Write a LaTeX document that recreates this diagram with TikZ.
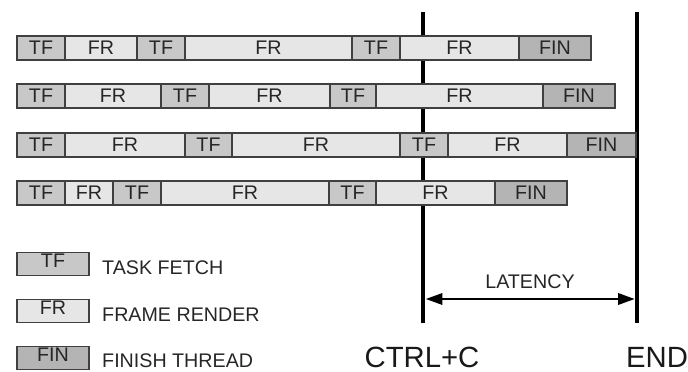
\documentclass[tikz,border=0pt]{standalone}
\usepackage{fontspec}
\setmainfont{Liberation Sans}
\usetikzlibrary{arrows.meta}
\definecolor{tfgray}{RGB}{200,200,200}
\definecolor{frgray}{RGB}{230,230,230}
\definecolor{fingray}{RGB}{180,180,180}
\begin{document}
\begin{tikzpicture}[x=0.03cm, y=-0.03cm, >={Triangle[length=14pt,width=10pt]},
    seg/.style={draw=black!75, line width=1pt, minimum height=0.72cm,
        inner sep=0pt, outer sep=0pt, text=black!85,
        font=\fontsize{16.8}{17}\selectfont},
    keybox/.style={seg, minimum width=2.16cm, minimum height=0.68cm, text depth=6pt},
    keytext/.style={anchor=west, inner sep=0pt, text=black!85, font=\fontsize{16.8}{17}\selectfont},
    marker/.style={line width=4.2pt},
    bigtext/.style={inner sep=0pt, text=black!90, font=\fontsize{25}{25}\selectfont}]
    \useasboundingbox (0,0) rectangle (688,372);

    % 1. Toa do cac vach dung CTRL+C va END
    \coordinate (ctrltop) at (423, 12);
    \coordinate (ctrlbot) at (423, 323);
    \coordinate (endtop) at (637, 12);
    \coordinate (endbot) at (637, 323);

    % 2. Ve cac vach dung (nam phia sau cac thanh)
    \draw[marker] (ctrltop) -- (ctrlbot);
    \draw[marker] (endtop) -- (endbot);

    % 3. Cac thanh cong viec cua tung luong
    % Luong 1
    \foreach \c/\a/\b/\t [count=\i] in {tfgray/17/65/TF, frgray/65/137/FR,
        tfgray/137/185/TF, frgray/185/352/FR, tfgray/352/400/TF,
        frgray/400/519/FR, fingray/519/591/FIN} {
        \node[seg, fill=\c, minimum width={(\b-\a)*0.03cm}] (ra\i) at ({(\a+\b)/2}, 48) {\t};
    }
    % Luong 2
    \foreach \c/\a/\b/\t [count=\i] in {tfgray/17/65/TF, frgray/65/161/FR,
        tfgray/161/209/TF, frgray/209/330/FR, tfgray/330/376/TF,
        frgray/376/543/FR, fingray/543/615/FIN} {
        \node[seg, fill=\c, minimum width={(\b-\a)*0.03cm}] (rb\i) at ({(\a+\b)/2}, 96) {\t};
    }
    % Luong 3
    \foreach \c/\a/\b/\t [count=\i] in {tfgray/17/65/TF, frgray/65/185/FR,
        tfgray/185/232/TF, frgray/232/400/FR, tfgray/400/448/TF,
        frgray/448/567/FR, fingray/567/636/FIN} {
        \node[seg, fill=\c, minimum width={(\b-\a)*0.03cm}] (rc\i) at ({(\a+\b)/2}, 145) {\t};
    }
    % Luong 4
    \foreach \c/\a/\b/\t [count=\i] in {tfgray/17/65/TF, frgray/65/113/FR,
        tfgray/113/161/TF, frgray/161/329/FR, tfgray/329/376/TF,
        frgray/376/495/FR, fingray/495/567/FIN} {
        \node[seg, fill=\c, minimum width={(\b-\a)*0.03cm}] (rd\i) at ({(\a+\b)/2}, 193) {\t};
    }

    % 4. Chu giai
    \node[keybox, fill=tfgray] (keytf) at (53, 264) {TF};
    \node[keybox, fill=frgray] (keyfr) at (53, 311) {FR};
    \node[keybox, fill=fingray] (keyfin) at (53, 358) {FIN};
    \node[keytext] (keytftext) at (102, 268) {TASK FETCH};
    \node[keytext] (keyfrtext) at (102, 315) {FRAME RENDER};
    \node[keytext] (keyfintext) at (102, 361) {FINISH THREAD};

    % 5. Do tre giua CTRL+C va END
    \coordinate (latl) at (426, 299);
    \coordinate (latr) at (634.5, 299);
    \draw[<->, line width=0.9pt] (latl) -- (latr);
    \node[keytext, anchor=center] (latency) at (530, 282) {LATENCY};
    \node[bigtext] (ctrl) at (422, 357) {CTRL+C};
    \node[bigtext] (end) at (657, 357) {END};
\end{tikzpicture}
\end{document}
